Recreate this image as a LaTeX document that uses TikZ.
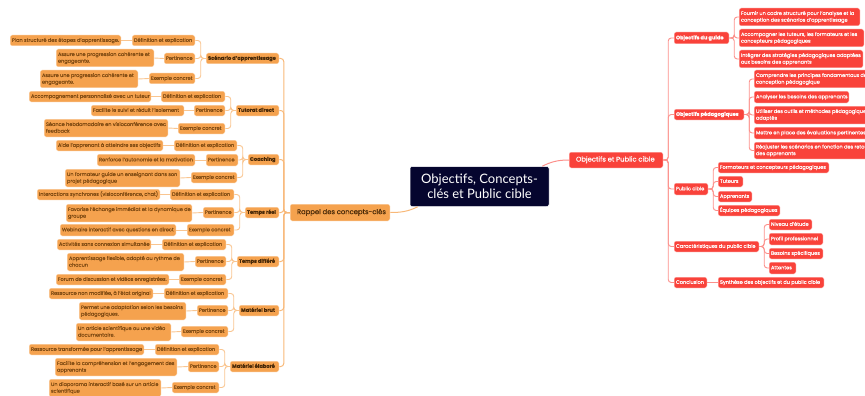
\documentclass[tikz,border=0pt]{standalone}
\usepackage{fontspec}
\setmainfont{Poppins}[FakeBold=0.25]
\newfontfamily\ctrfont{Lato}
\newfontfamily\medfont{Poppins}[FakeBold=0.4]
\definecolor{orfill}{HTML}{F5A24E}
\definecolor{ortext}{HTML}{7E4A12}
\definecolor{ordark}{HTML}{4A2A08}
\definecolor{orline}{HTML}{F9C590}
\definecolor{ortrunk}{HTML}{F8B878}
\definecolor{refill}{HTML}{F9423A}
\definecolor{reline}{HTML}{FC8F8A}
\definecolor{navy}{HTML}{05052E}
\tikzset{
  boxbase/.style={rounded corners=2pt,draw=white,line width=0.5pt,inner sep=0pt},
  orleaf/.style={boxbase,fill=orfill,text=ortext,font=\fontsize{5}{6.7}\selectfont},
  orhead/.style={boxbase,fill=orfill,text=ordark,font=\fontsize{5.1}{6.7}\selectfont\bfseries},
  redleaf/.style={boxbase,fill=refill,text=white,font=\fontsize{5}{6.7}\selectfont},
  redhead/.style={boxbase,fill=refill,text=white,font=\fontsize{5.1}{6.7}\selectfont\bfseries},
  orlink/.style={draw=orline,line width=0.9pt,rounded corners=3pt},
  ortrunkline/.style={draw=ortrunk,line width=1pt,rounded corners=3pt},
  redlink/.style={draw=reline,line width=0.9pt,rounded corners=3pt},
}
% style, name, x1, y1, x2, y2, text
\newcommand{\bx}[7]{%
  \pgfmathsetlengthmacro{\bxw}{(#5-#3)*1pt}%
  \pgfmathsetlengthmacro{\bxh}{(#6-#4)*1pt}%
  \node[#1,minimum width=\bxw,minimum height=\bxh] (#2) at ({(#3+#5)/2},{(#4+#6)/2})
    {\makebox[\bxw][l]{\hspace{2pt}\begin{tabular}[c]{@{}l@{}}#7\end{tabular}}};%
}
\newcommand{\lkl}[2]{\draw[orlink] (#1.east) -| ([xshift=-5pt]#2.west) -- (#2.west);}
\newcommand{\lkr}[2]{\draw[redlink] (#1.west) -| ([xshift=5pt]#2.east) -- (#2.east);}
\begin{document}
\begin{tikzpicture}[x=1pt,y=-1pt]
\useasboundingbox (0,0) rectangle (865,396);
\clip (0,0) rectangle (865,396);
% Centre
\node[rounded corners=2pt,fill=navy,draw=white,line width=0.5pt,text=white,align=center,inner sep=0pt,
  minimum width=139pt,minimum height=40pt,font=\ctrfont\fontsize{13}{14.5}\selectfont] (ctr) at (479.5,186.5) {Objectifs, Concepts-\\clés et Public cible};
\bx{orleaf,font=\medfont\fontsize{6.8}{7}\selectfont,text=ordark}{rap}{290}{204}{390}{221}{\hspace{5pt}Rappel des concepts-clés}
\bx{redleaf,font=\medfont\fontsize{6.8}{7}\selectfont}{obj}{569}{152}{663}{168}{\hspace{5pt}Objectifs et Public cible}
\draw[draw=ortrunk,line width=1pt] ([xshift=8pt]ctr.south west) .. controls +(-10,5) and +(10,0) .. (rap.east);
\draw[draw=reline,line width=1pt] ([xshift=-7pt]ctr.north east) .. controls +(8,-4) and +(-12,0) .. (obj.west);
% Scenario
\bx{orleaf}{a1}{10}{35}{121}{46}{Plan structuré des étapes d'apprentissage.}
\bx{orleaf}{a2}{132}{35}{195}{46}{Définition et explication}
\bx{orleaf}{a3}{56}{49}{154}{67}{Assure une progression cohérente et\\engageante.}
\bx{orleaf}{a4}{164}{53}{195}{64}{Pertinence}
\bx{orleaf}{a5}{40}{70}{138}{88}{Assure une progression cohérente et\\engageante.}
\bx{orleaf}{a6}{149}{73}{195}{84}{Exemple concret}
\bx{orhead}{a7}{206}{53}{279}{64}{Scénario d'apprentissage}
% Tutorat
\bx{orleaf}{b1}{29}{91}{151}{102}{Accompagnement personnalisé avec un tuteur}
\bx{orleaf}{b2}{161}{91}{225}{102}{Définition et explication}
\bx{orleaf}{b3}{91}{105}{184}{116}{Facilite le suivi et réduit l'isolement}
\bx{orleaf}{b4}{194}{105}{225}{116}{Pertinence}
\bx{orleaf}{b5}{44}{119}{168}{137}{Séance hebdomadaire en visioconférence avec\\feedback}
\bx{orleaf}{b6}{178}{123}{225}{134}{Exemple concret}
\bx{orhead}{b7}{236}{105}{279}{116}{Tutorat direct}
% Coaching
\bx{orleaf}{c1}{56}{140}{163}{151}{Aide l'apprenant à atteindre ses objectifs}
\bx{orleaf}{c2}{174}{140}{237}{151}{Définition et explication}
\bx{orleaf}{c3}{97}{154}{195}{166}{Renforce l'autonomie et la motivation}
\bx{orleaf}{c4}{206}{154}{238}{166}{Pertinence}
\bx{orleaf}{c5}{65}{169}{180}{187}{Un formateur guide un enseignant dans son\\projet pédagogique}
\bx{orleaf}{c6}{191}{172}{237}{183}{Exemple concret}
\bx{orhead}{c7}{248}{154}{279}{165}{Coaching}
% Temps reel
\bx{orleaf}{d1}{37}{189}{160}{200}{Interactions synchrones (visioconférence, chat)}
\bx{orleaf}{d2}{170}{189}{234}{200}{Définition et explication}
\bx{orleaf}{d3}{66}{204}{192}{222}{Favorise l'échange immédiat et la dynamique de\\groupe}
\bx{orleaf}{d4}{203}{207}{234}{218}{Pertinence}
\bx{orleaf}{d5}{60}{224}{176}{236}{Webinaire interactif avec questions en direct}
\bx{orleaf}{d6}{187}{224}{234}{236}{Exemple concret}
\bx{orhead}{d7}{245}{207}{279}{218}{Temps réel}
% Temps differe
\bx{orleaf}{e1}{57}{239}{151}{250}{Activités sans connexion simultanée}
\bx{orleaf}{e2}{162}{239}{226}{250}{Définition et explication}
\bx{orleaf}{e3}{67}{253}{184}{271}{Apprentissage flexible, adapté au rythme de\\chacun}
\bx{orleaf}{e4}{195}{256}{226}{267}{Pertinence}
\bx{orleaf}{e5}{56}{274}{169}{285}{Forum de discussion et vidéos enregistrées.}
\bx{orleaf}{e6}{179}{274}{226}{285}{Exemple concret}
\bx{orhead}{e7}{237}{256}{279}{267}{Temps différé}
% Materiel brut
\bx{orleaf}{f1}{49}{288}{153}{299}{Ressource non modifiée, à l'état original}
\bx{orleaf}{f2}{164}{288}{228}{299}{Définition et explication}
\bx{orleaf}{f3}{79}{302}{186}{320}{Permet une adaptation selon les besoins\\pédagogiques.}
\bx{orleaf}{f4}{197}{305}{228}{316}{Pertinence}
\bx{orleaf}{f5}{76}{323}{171}{341}{Un article scientifique ou une vidéo\\documentaire.}
\bx{orleaf}{f6}{181}{326}{228}{337}{Exemple concret}
\bx{orhead}{f7}{239}{305}{279}{316}{Matériel brut}
% Materiel elabore
\bx{orleaf}{g1}{29}{344}{144}{355}{Ressource transformée pour l'apprentissage}
\bx{orleaf}{g2}{155}{344}{219}{355}{Définition et explication}
\bx{orleaf}{g3}{55}{358}{177}{376}{Facilite la compréhension et l'engagement des\\apprenants}
\bx{orleaf}{g4}{188}{361}{219}{372}{Pertinence}
\bx{orleaf}{g5}{49}{379}{161}{397}{Un diaporama interactif basé sur un article\\scientifique}
\bx{orleaf}{g6}{172}{382}{219}{393}{Exemple concret}
\bx{orhead}{g7}{230}{361}{279}{372}{Matériel élaboré}
% left links
\foreach \g in {a,b,c,d,e,f,g}{
  \draw[orlink] (\g1.east) -- (\g2.west);
  \draw[orlink] (\g3.east) -- (\g4.west);
  \draw[orlink] (\g5.east) -- (\g6.west);
  \lkl{\g2}{\g7}
  \lkl{\g4}{\g7}
  \lkl{\g6}{\g7}
  \draw[ortrunkline] (\g7.east) -| ([xshift=-6pt]rap.west) -- (rap.west);
}
% Right side
\bx{redleaf}{h1}{739}{8}{860}{26}{Fournir un cadre structuré pour l'analyse et la\\conception des scénarios d'apprentissage}
\bx{redleaf}{h2}{739}{29}{864}{47}{Accompagner les tuteurs, les formateurs et les\\concepteurs pédagogiques}
\bx{redleaf}{h3}{739}{50}{863}{68}{Intégrer des stratégies pédagogiques adaptées\\aux besoins des apprenants}
\bx{redhead}{h0}{674}{32}{729}{44}{Objectifs du guide}
\bx{redleaf}{i1}{754}{70}{885}{88}{Comprendre les principes fondamentaux de la\\conception pédagogique}
\bx{redleaf}{i2}{754}{91}{849}{103}{Analyser les besoins des apprenants}
\bx{redleaf}{i3}{754}{106}{885}{124}{Utiliser des outils et méthodes pédagogiques\\adaptés}
\bx{redleaf}{i4}{754}{127}{885}{139}{Mettre en place des évaluations pertinentes}
\bx{redleaf}{i5}{754}{142}{885}{159}{Réajuster les scénarios en fonction des retours\\des apprenants}
\bx{redhead}{i0}{674}{109}{744}{120}{Objectifs pédagogiques}
\bx{redleaf}{j1}{718}{162}{829}{173}{Formateurs et concepteurs pédagogiques}
\bx{redleaf}{j2}{718}{176}{743}{187}{Tuteurs}
\bx{redleaf}{j3}{718}{191}{752}{202}{Apprenants}
\bx{redleaf}{j4}{718}{205}{780}{216}{Équipes pédagogiques}
\bx{redleaf}{j0}{674}{183}{708}{195}{Public cible}
\bx{redleaf}{k1}{769}{219}{812}{230}{Niveau d'étude}
\bx{redleaf}{k2}{769}{233}{823}{245}{Profil professionnel}
\bx{redleaf}{k3}{769}{248}{823}{259}{Besoins spécifiques}
\bx{redleaf}{k4}{769}{262}{796}{274}{Attentes}
\bx{redleaf}{k0}{674}{241}{759}{252}{Caractéristiques du public cible}
\bx{redleaf}{l0}{674}{277}{707}{288}{Conclusion}
\bx{redleaf}{l1}{718}{277}{824}{288}{Synthèse des objectifs et du public cible}
\foreach \c in {h1,h2,h3}{\lkr{\c}{h0}}
\foreach \c in {i1,i2,i3,i4,i5}{\lkr{\c}{i0}}
\foreach \c in {j1,j2,j3,j4}{\lkr{\c}{j0}}
\foreach \c in {k1,k2,k3,k4}{\lkr{\c}{k0}}
\draw[redlink] (l1.west) -- (l0.east);
\foreach \c in {h0,i0,j0,k0,l0}{\draw[redlink] (\c.west) -| ([xshift=5pt]obj.east) -- (obj.east);}
\end{tikzpicture}
\end{document}
